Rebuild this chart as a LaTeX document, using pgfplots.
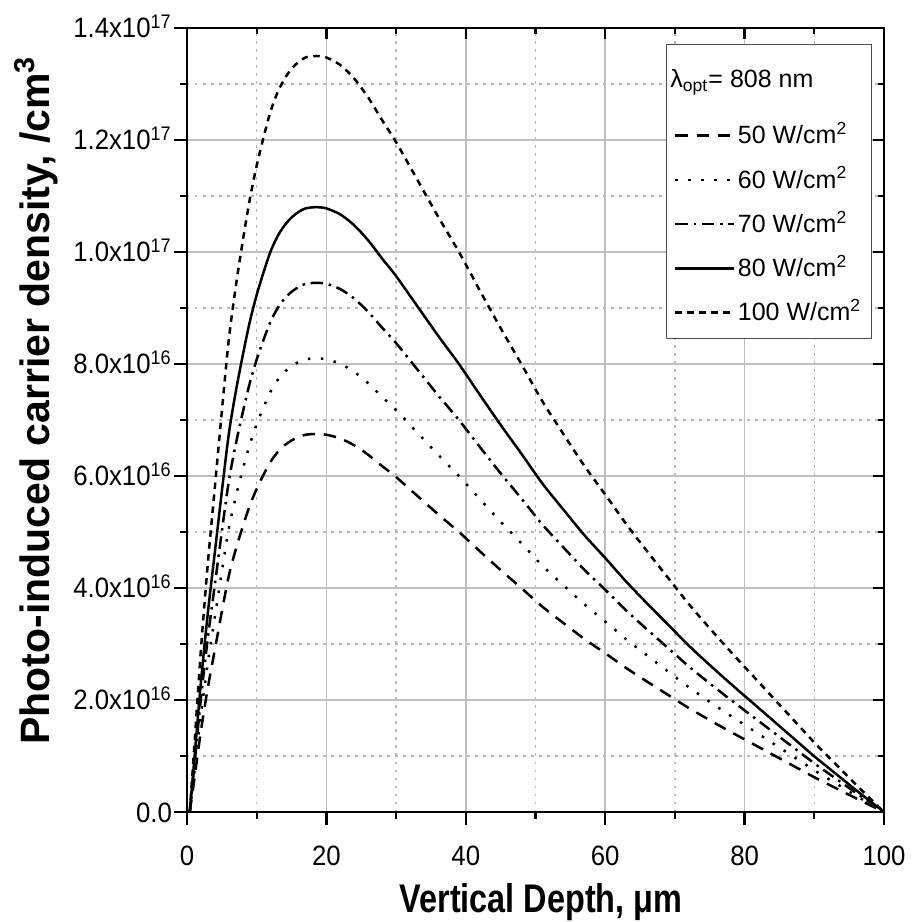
\documentclass[border=0pt]{standalone}
\usepackage{pgfplots}
\pgfplotsset{compat=1.18}
\usepackage{pgfplotstable}
\usepackage{fontspec}
\setmainfont{Liberation Sans}
\newfontfamily\tickfont[FakeStretch=0.92]{Liberation Sans}
\newfontfamily\xlabelfont[FakeStretch=0.81]{Liberation Sans}
\newcommand\es{\rule[-2pt]{0pt}{10pt}}

% values in units of 1e16 /cm^3
\pgfplotstableread{
x     p50    p60    p70    p80     p100
0.4   0      0      0      0       0
1     0.540  0.648  0.756  0.864   1.080
2     1.451  1.742  2.032  2.322   2.903
3     2.228  2.673  3.119  3.564   4.455
4     2.903  3.483  4.064  4.644   5.805
5     3.578  4.293  5.009  5.724   7.155
6     4.219  5.063  5.906  6.750   8.438
7     4.691  5.630  6.568  7.506   9.383
8     5.096  6.116  7.135  8.154   10.193
9     5.468  6.561  7.655  8.748   10.935
10    5.771  6.926  8.080  9.234   11.543
11    6.028  7.233  8.439  9.644   12.056
12    6.257  7.509  8.760  10.012  12.515
13    6.426  7.711  8.996  10.282  12.852
14    6.548  7.857  9.167  10.476  13.095
15    6.635  7.962  9.289  10.616  13.271
16    6.696  8.035  9.374  10.714  13.392
17    6.737  8.084  9.431  10.778  13.473
18.5  6.750  8.100  9.450  10.800  13.500
20    6.737  8.084  9.431  10.778  13.473
22    6.669  8.003  9.337  10.670  13.338
24    6.548  7.857  9.167  10.476  13.095
26    6.379  7.655  8.930  10.206  12.758
28    6.176  7.412  8.647  9.882   12.353
30    5.981  7.177  8.373  9.569   11.961
33    5.650  6.780  7.910  9.040   11.300
36    5.319  6.383  7.447  8.510   10.638
39    5.002  6.002  7.002  8.003   10.004
42    4.658  5.589  6.521  7.452   9.315
45    4.320  5.184  6.048  6.912   8.640
48    3.996  4.795  5.594  6.394   7.992
51    3.665  4.398  5.131  5.864   7.331
54    3.375  4.050  4.725  5.400   6.750
57    3.092  3.710  4.328  4.946   6.183
60    2.835  3.402  3.969  4.536   5.670
63    2.572  3.086  3.600  4.115   5.144
66    2.329  2.795  3.260  3.726   4.658
69    2.093  2.511  2.930  3.348   4.185
72    1.856  2.228  2.599  2.970   3.713
75    1.640  1.968  2.296  2.624   3.281
78    1.431  1.717  2.003  2.290   2.862
81    1.229  1.474  1.720  1.966   2.457
84    1.026  1.231  1.436  1.642   2.052
87    0.824  0.988  1.153  1.318   1.647
90    0.621  0.745  0.869  0.994   1.242
93    0.432  0.518  0.605  0.691   0.864
96    0.243  0.292  0.340  0.389   0.486
98    0.122  0.146  0.170  0.194   0.243
100   0      0      0      0       0
}\datatable

\begin{document}
\begin{tikzpicture}
\pgfplotsset{
  common/.style={
    scale only axis, width=278.8pt, height=313.6pt,
    xmin=0, xmax=100, ymin=0, ymax=14,
    xtick={0,20,...,100}, minor xtick={10,30,...,90},
    ytick={0,2,...,14}, minor ytick={1,3,...,13},
    axis line style={line width=1pt},
    every tick/.style={black, line width=0.9pt},
  }
}
\begin{axis}[common, name=ax,
    xtick pos=left, ytick pos=left, tick align=outside,
    major tick length=5pt, minor tick length=2.8pt,
    xticklabels={0,20,40,60,80,100},
    yticklabels={0.0, 2.0x10\textsuperscript{16}, 4.0x10\textsuperscript{16}, 6.0x10\textsuperscript{16}, 8.0x10\textsuperscript{16}, 1.0x10\textsuperscript{17}, 1.2x10\textsuperscript{17}, 1.4x10\textsuperscript{17}},
    tick label style={font=\fontsize{11.2}{13}\tickfont},
    yticklabel style={anchor=base east, yshift=-4pt, xshift=2.5pt},
    xticklabel style={yshift=-5pt},
    grid=both,
    major grid style={black!25, line width=0.6pt},
    minor grid style={black!28, line width=0.6pt, dash pattern=on 1pt off 2.2pt},
    xlabel={Vertical Depth, μm},
    ylabel={Photo-induced carrier density, /cm\textsuperscript{3}},
    xlabel style={font=\fontsize{16}{19}\xlabelfont\bfseries,
      at={(axis description cs:0.508,-0.1276)}, anchor=base},
    ylabel style={font=\fontsize{16.4}{19}\selectfont\bfseries,
      at={(axis description cs:-0.1966,0.525)}, anchor=base},
    legend style={at={(rel axis cs:0.983,0.98)}, anchor=north east,
      draw=black!70, line width=0.6pt, inner xsep=3pt, inner ysep=4pt,
      font=\fontsize{10}{12}\selectfont, cells={anchor=west},
      nodes={inner sep=1pt, text depth=}, row sep=5.2pt},
    legend image code/.code={\draw[#1] (0pt,0pt) -- (23.5pt,0pt);},
]
\addlegendimage{empty legend}
\addlegendentry{\hspace*{-27pt}\rule[-6.6pt]{0pt}{19pt}λ\textsubscript{opt}= 808 nm}
\addplot[black, line width=1pt, smooth, dash pattern=on 5pt off 3.5pt] table[x=x, y=p50] {\datatable};
\addlegendentry{\es 50 W/cm\textsuperscript{2}}
\addplot[black, line width=1pt, smooth, dash pattern=on 1pt off 4.2pt] table[x=x, y=p60] {\datatable};
\addlegendentry{\es 60 W/cm\textsuperscript{2}}
\addplot[black, line width=1pt, smooth, dash pattern=on 5pt off 2.3pt on 1pt off 2.3pt] table[x=x, y=p70] {\datatable};
\addlegendentry{\es 70 W/cm\textsuperscript{2}}
\addplot[black, line width=1pt, smooth] table[x=x, y=p80] {\datatable};
\addlegendentry{\es 80 W/cm\textsuperscript{2}}
\addplot[black, line width=1pt, smooth, dash pattern=on 2.6pt off 2.2pt] table[x=x, y=p100] {\datatable};
\addlegendentry{\es 100 W/cm\textsuperscript{2}}
\end{axis}
\begin{axis}[common,
    xtick pos=right, ytick pos=right, tick align=inside,
    major tick length=4.5pt, minor tick length=2.4pt,
    xticklabels={}, yticklabels={},
]
\end{axis}
\pgfresetboundingbox
\path[use as bounding box] ([shift={(-74.8pt,-44pt)}]ax.south west) rectangle ([shift={(11.6pt,11.2pt)}]ax.north east);
\end{tikzpicture}
\end{document}
